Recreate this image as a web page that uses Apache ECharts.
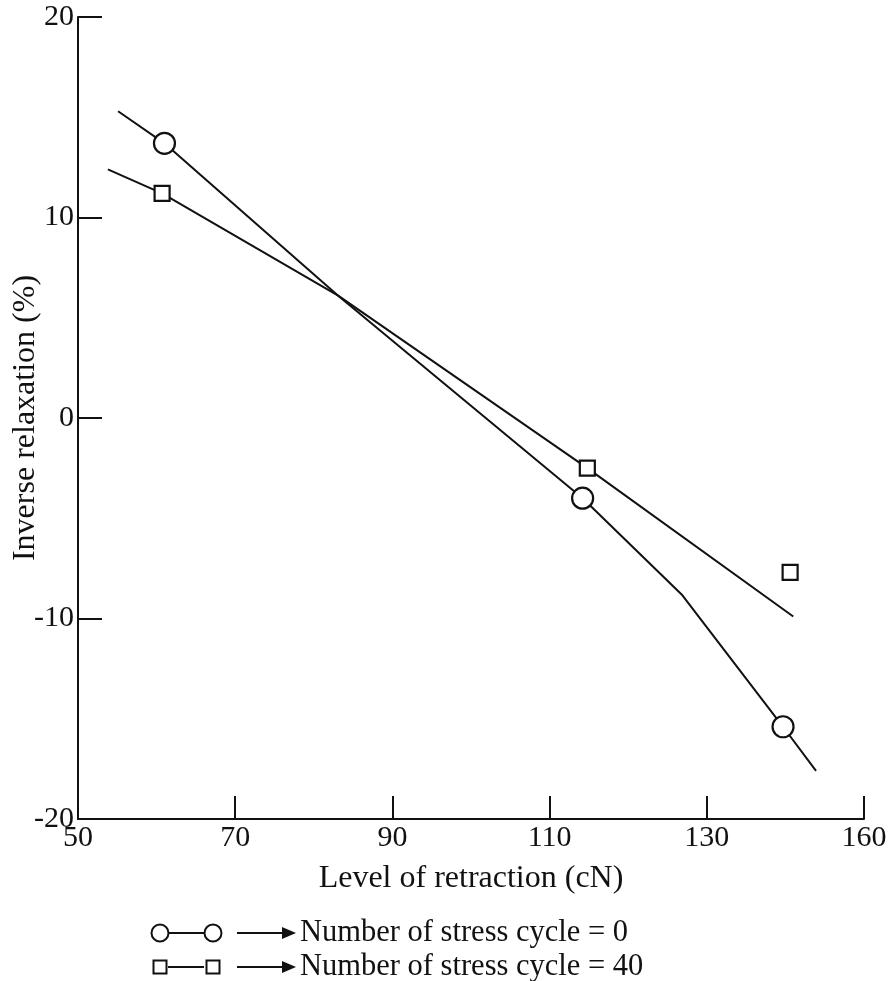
<!DOCTYPE html>
<html>
<head>
<meta charset="utf-8">
<title>Inverse relaxation vs level of retraction</title>
<script src="https://cdn.jsdelivr.net/npm/echarts@6/dist/echarts.min.js"></script>
<style>
  html, body { margin: 0; padding: 0; background: #fff; }
  #chart { width: 888px; height: 981px; }
</style>
</head>
<body>
<div id="chart"></div>
<script>
// Measured points, stress cycle = 0 (circles)
const cycle0X = [61.0, 114.2, 139.7];
const cycle0Y = [13.7, -4.0, -15.4];

// Measured points, stress cycle = 40 (squares)
const cycle40X = [60.7, 114.8, 140.6];
const cycle40Y = [11.2, -2.5, -7.7];

// Hand-drawn trend lines through the points (vertices)
const trend0X = [55.1, 61.0, 83.1, 114.2, 126.8, 139.7, 143.9];
const trend0Y = [15.3, 13.7, 6.1, -4.0, -8.8, -15.4, -17.6];
const trend40X = [53.8, 60.7, 83.1, 114.8, 141.0];
const trend40Y = [12.4, 11.2, 6.1, -2.5, -9.9];

// Axis tick labels as printed
const xTickLabels = ['50', '70', '90', '110', '130', '160'];
const yTickLabels = ['-20', '-10', '0', '10', '20'];

const legendLabels = ['Number of stress cycle = 0', 'Number of stress cycle = 40'];

const zip = (xs, ys) => xs.map((x, i) => [x, ys[i]]);

const FONT = 'Liberation Serif';
const INK = '#111';

const chart = echarts.init(document.getElementById('chart'), null, { renderer: 'canvas' });

// Legend rows drawn below the plot
function legendRow(y, kind, label) {
  const els = [];
  const mark = (cx) => kind === 'circle'
    ? { type: 'circle', shape: { cx: cx, cy: y, r: 8.5 }, style: { fill: '#fff', stroke: INK, lineWidth: 2 } }
    : { type: 'rect', shape: { x: cx - 6.5, y: y - 6.5, width: 13, height: 13 }, style: { fill: '#fff', stroke: INK, lineWidth: 2 } };
  els.push({ type: 'line', shape: { x1: 168, y1: y, x2: 204, y2: y }, style: { stroke: INK, lineWidth: 2 } });
  els.push(mark(160));
  els.push(mark(213));
  els.push({ type: 'line', shape: { x1: 237, y1: y, x2: 284, y2: y }, style: { stroke: INK, lineWidth: 2 } });
  els.push({ type: 'polygon', shape: { points: [[282, y - 6], [296, y], [282, y + 6]] }, style: { fill: INK } });
  els.push({ type: 'text', style: { x: 300, y: y, text: label, fontFamily: FONT, fontSize: 30.5, fill: INK, verticalAlign: 'middle', align: 'left' } });
  return els;
}

const option = {
  backgroundColor: '#fff',
  animation: false,
  grid: { left: 78, right: 24, top: 17, bottom: 162, containLabel: false, outerBoundsMode: 'none' },
  xAxis: {
    type: 'value',
    min: 50, max: 150, interval: 20,
    name: 'Level of retraction (cN)',
    nameLocation: 'middle',
    nameGap: 44,
    nameMoveOverlap: false,
    nameTextStyle: { fontFamily: FONT, fontSize: 32, color: INK },
    axisLine: { show: true, onZero: false, lineStyle: { color: INK, width: 2 } },
    axisTick: { show: true, inside: true, length: 23, lineStyle: { color: INK, width: 2 } },
    axisLabel: {
      margin: 4,
      fontFamily: FONT, fontSize: 30, color: INK,
      formatter: (v) => xTickLabels[Math.round((v - 50) / 20)]
    },
    splitLine: { show: false }
  },
  yAxis: {
    type: 'value',
    min: -20, max: 20, interval: 10,
    name: 'Inverse relaxation (%)',
    nameLocation: 'middle',
    nameGap: 36,
    nameMoveOverlap: false,
    nameTextStyle: { fontFamily: FONT, fontSize: 32, color: INK },
    axisLine: { show: true, onZero: false, lineStyle: { color: INK, width: 2 } },
    axisTick: { show: true, inside: true, length: 24, lineStyle: { color: INK, width: 2 } },
    axisLabel: {
      margin: 4,
      fontFamily: FONT, fontSize: 30, color: INK,
      formatter: (v) => yTickLabels[Math.round((v + 20) / 10)]
    },
    splitLine: { show: false }
  },
  series: [
    {
      name: 'trend0', type: 'line', data: zip(trend0X, trend0Y),
      showSymbol: false, symbol: 'none', z: 2,
      lineStyle: { color: INK, width: 2 }
    },
    {
      name: 'trend40', type: 'line', data: zip(trend40X, trend40Y),
      showSymbol: false, symbol: 'none', z: 2,
      lineStyle: { color: INK, width: 2 }
    },
    {
      name: legendLabels[0], type: 'scatter', data: zip(cycle0X, cycle0Y),
      symbol: 'circle', symbolSize: 21, z: 5,
      itemStyle: { color: '#fff', borderColor: INK, borderWidth: 2.2, opacity: 1 }
    },
    {
      name: legendLabels[1], type: 'scatter', data: zip(cycle40X, cycle40Y),
      symbol: 'rect', symbolSize: 15, z: 5,
      itemStyle: { color: '#fff', borderColor: INK, borderWidth: 2.2, opacity: 1 }
    }
  ],
  graphic: [].concat(
    legendRow(933, 'circle', legendLabels[0]),
    legendRow(967, 'square', legendLabels[1])
  )
};

chart.setOption(option);
</script>
</body>
</html>
